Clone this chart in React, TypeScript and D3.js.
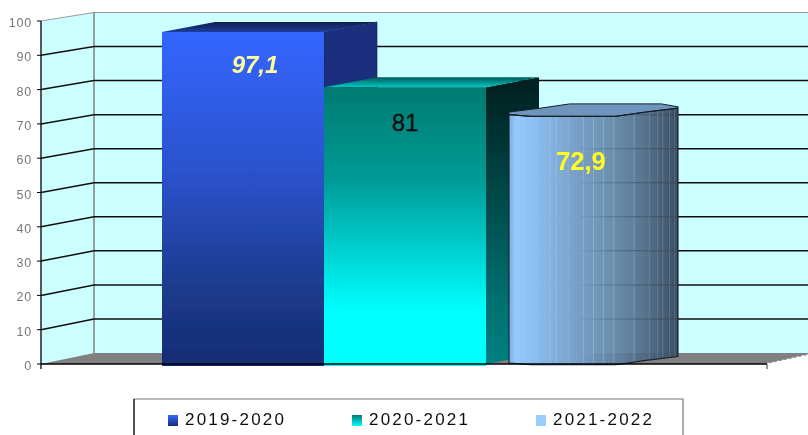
import React from "react";
import * as d3 from "d3";

const categories = ["2019-2020", "2020-2021", "2021-2022"];
const values = [97.1, 81, 72.9];
const labels = ["97,1", "81", "72,9"];
const labelColors = ["#FFFF99", "#111111", "#FFFF22"];
const yTicks = [0, 10, 20, 30, 40, 50, 60, 70, 80, 90, 100];
const legendX = [168, 352, 536];
// Cylinder facets: seam positions across the width, and its faceted rim as [across, depth] fractions
const facetStops = [0.03, 0.06, 0.09, 0.17, 0.24, 0.28, 0.35, 0.44, 0.5, 0.56, 0.62, 0.74, 0.83, 0.88, 0.91, 0.95, 0.98];
const rimFront = [[0, 0.7], [0.13, 0.97], [0.63, 0.97], [0.81, 0.3], [1, -0.3]];
const rimBack = [[0, 0.3], [0.19, -0.3], [0.36, -0.95], [0.9, -0.95], [1, -0.5]];

const W = 808, H = 435;
const depthX = 53, depthY = -10;

const yF = d3.scaleLinear().domain([0, 100]).range([364, 21]);
const yB = d3.scaleLinear().domain([0, 100]).range([353, 12.5]);
const x = d3.scaleBand<string>().domain(categories).range([162, 648]).padding(0);
const poly = (p: number[][]) => d3.line()(p as [number, number][]) + "Z";

const shade = d3.scaleLinear<string>()
  .domain([0, 0.04, 0.13, 0.35, 0.55, 0.75, 0.88, 1])
  .range(["#7fb0e0", "#94c8ff", "#8cc0f4", "#7da5cf", "#6a8fb0", "#54708e", "#465c74", "#3a4c60"]);

function Cylinder({ v, cat }: { v: number; cat: string }) {
  const band = x.bandwidth();
  const cx = x(cat)! + band / 2 + depthX / 2;
  const rx = 84.5, ry = 6.5;
  const bot = yF(0) - 5.6, top = yF(v) - 3.9;
  const xL = cx - rx, w = 2 * rx;
  const front = rimFront.map(([u, d]) => [xL + u * w, d * ry]);
  const back = rimBack.map(([u, d]) => [xL + u * w, d * ry]);
  const topFace = [...front.map(([a, b]) => [a, top + b]), ...back.slice().reverse().map(([a, b]) => [a, top + b])];
  const body = [...front.map(([a, b]) => [a, top + b]), ...front.slice().reverse().map(([a, b]) => [a, bot + b])];
  const steps = d3.range(0, 170);
  const gaps = yTicks.slice(1, -1).map((t) => yB(t)).reverse().filter((g) => g > top + 25);
  const bands = d3.pairs([top - 5, ...gaps, bot + 8]);
  return (
    <g>
      <clipPath id="cyl"><path d={poly(body)} /></clipPath>
      <g clipPath="url(#cyl)">
        {steps.map((i) => (
          <rect key={i} x={xL + i * (w / 170)} y={top - 8} width={w / 170 + 0.4} height={bot - top + 16} fill={shade(i / 169)} />
        ))}
        {facetStops.map((f, i) =>
          bands.map(([a, b], j) => (
            <line key={`${i}-${j}`} x1={xL + f * w} x2={xL + f * w} y1={a + 0.5} y2={b - 0.5}
              stroke="#b4d2ec" strokeOpacity={f > 0.8 ? 0.22 : 0.36} strokeWidth={1} />
          ))
        )}
      </g>
      <path d={poly(topFace)} fill="#6f95bd" stroke="#16202c" strokeWidth={1} strokeLinejoin="round" />
      <path d={poly(body)} fill="none" stroke="#16202c" strokeWidth={1.1} strokeLinejoin="round" />
    </g>
  );
}

export default function App() {
  const floorRight = 767;
  return (
    <svg width={W} height={H} viewBox={`0 0 ${W} ${H}`} style={{ position: "absolute", left: 0, top: 0, background: "#fff", fontFamily: "'Liberation Sans', Arial, sans-serif" }}>
      <defs>
        <linearGradient id="f1" x1="0" x2="0" y1="0" y2="1">
          <stop offset="0" stopColor="#3366FF" />
          <stop offset="0.45" stopColor="#2a50c8" />
          <stop offset="0.78" stopColor="#1b3a8a" />
          <stop offset="1" stopColor="#162c74" />
        </linearGradient>
        <linearGradient id="t1" x1="0" x2="0" y1="1" y2="0">
          <stop offset="0" stopColor="#1f3c98" />
          <stop offset="1" stopColor="#101e50" />
        </linearGradient>
        <linearGradient id="f2" x1="0" x2="0" y1="0" y2="1">
          <stop offset="0" stopColor="#007a70" />
          <stop offset="0.33" stopColor="#009a96" />
          <stop offset="0.62" stopColor="#00d8d8" />
          <stop offset="0.8" stopColor="#00ffff" />
          <stop offset="1" stopColor="#00ffff" />
        </linearGradient>
        <linearGradient id="s2" x1="0" x2="0" y1="0" y2="1">
          <stop offset="0" stopColor="#001f1f" />
          <stop offset="0.33" stopColor="#004040" />
          <stop offset="0.78" stopColor="#007070" />
          <stop offset="1" stopColor="#008080" />
        </linearGradient>
        <linearGradient id="t2" x1="0" x2="0" y1="1" y2="0">
          <stop offset="0" stopColor="#00c8c0" />
          <stop offset="1" stopColor="#005a58" />
        </linearGradient>
        <linearGradient id="l1" x1="0" x2="0" y1="0" y2="1">
          <stop offset="0" stopColor="#3366FF" /><stop offset="1" stopColor="#1a2d74" />
        </linearGradient>
        <linearGradient id="l2" x1="0" x2="0" y1="0" y2="1">
          <stop offset="0" stopColor="#007a70" /><stop offset="1" stopColor="#00ffff" />
        </linearGradient>
        <filter id="soft" x="-2%" y="-2%" width="104%" height="104%"><feGaussianBlur stdDeviation="0.45" /></filter>
      </defs>

      <g filter="url(#soft)">
        {/* walls */}
        <rect x={94} y={yB(100)} width={W - 94} height={yB(0) - yB(100)} fill="#CCFFFF" />
        <path d={poly([[41, yF(100)], [94, yB(100)], [94, yB(0)], [41, yF(0)]])} fill="#CCFFFF" />
        <path d={poly([[41, yF(0)], [94, yB(0)], [W, yB(0)], [W, yB(0) + 2], [floorRight, yF(0)]])} fill="#808080" />
        <line x1={floorRight} x2={W} y1={yF(0)} y2={yB(0) + 2} stroke="#fff" strokeWidth={1.5} strokeDasharray="3 2" />
        <line x1={41} x2={94} y1={yF(100)} y2={yB(100)} stroke="#999" />
        <line x1={94} x2={W} y1={yB(100)} y2={yB(100)} stroke="#999" />
        <line x1={94} x2={94} y1={yB(100)} y2={yB(0)} stroke="#808080" strokeWidth={1.5} />

        {/* grid */}
        {yTicks.slice(1, -1).map((t) => (
          <g key={t} stroke="#111" strokeWidth={1.5}>
            <line x1={41} x2={94} y1={yF(t)} y2={yB(t)} />
            <line x1={94} x2={W} y1={yB(t)} y2={yB(t)} />
          </g>
        ))}

        {/* box bars */}
        {[0, 1].map((i) => {
          const c = categories[i], x0 = x(c)!, x1 = x0 + x.bandwidth(), top = yF(values[i]) + 1, b = yF(0);
          return (
            <g key={c}>
              <path d={poly([[x1, top], [x1 + depthX, top + depthY], [x1 + depthX, b + depthY], [x1, b]])} fill={i === 0 ? "#1a2f7e" : "url(#s2)"} stroke={i === 0 ? "#101c50" : "none"} strokeWidth={0.6} />
              <path d={poly([[x0, top], [x0 + depthX, top + depthY], [x1 + depthX, top + depthY], [x1, top]])} fill={i === 0 ? "url(#t1)" : "url(#t2)"} />
              <rect x={x0} y={top} width={x1 - x0} height={b - top + 2} fill={i === 0 ? "url(#f1)" : "url(#f2)"} />
            </g>
          );
        })}
        <Cylinder v={values[2]} cat={categories[2]} />

        {/* axes */}
        <line x1={41} x2={41} y1={yF(100)} y2={yF(0) + 5} stroke="#000" strokeWidth={1.3} />
        <line x1={41} x2={floorRight} y1={yF(0)} y2={yF(0)} stroke="#000" strokeWidth={1.3} />
        <line x1={floorRight} x2={floorRight} y1={yF(0)} y2={yF(0) + 5} stroke="#333" />
        {yTicks.map((t) => (
          <g key={t}>
            <line x1={37} x2={41} y1={yF(t)} y2={yF(t)} stroke="#000" />
            <text x={32} y={yF(t) + 6} textAnchor="end" fontSize={12.5} letterSpacing={0.8} fill="#777">{t}</text>
          </g>
        ))}

        {/* data labels */}
        <text x={255} y={73} textAnchor="middle" fontSize={24} fontWeight={700} fontStyle="italic" fill={labelColors[0]}>{labels[0]}</text>
        <text x={405} y={131} textAnchor="middle" fontSize={24} stroke={labelColors[1]} strokeWidth={0.35} fill={labelColors[1]}>{labels[1]}</text>
        <text x={581} y={170} textAnchor="middle" fontSize={25.5} fontWeight={700} fill={labelColors[2]}>{labels[2]}</text>

        {/* legend */}
        <path d="M134 440V399H683V440" fill="#fff" stroke="#777" strokeWidth={1.2} />
        <line x1={134} x2={134} y1={399} y2={435} stroke="#111" strokeWidth={1.2} />
        {categories.map((c, i) => (
          <g key={c}>
            <rect x={legendX[i]} y={415} width={10} height={11} fill={i === 0 ? "url(#l1)" : i === 1 ? "url(#l2)" : "#99CCFF"} />
            <text x={legendX[i] + 17} y={425} fontSize={17} letterSpacing={2.2} fill="#111">{c}</text>
          </g>
        ))}
      </g>
    </svg>
  );
}
